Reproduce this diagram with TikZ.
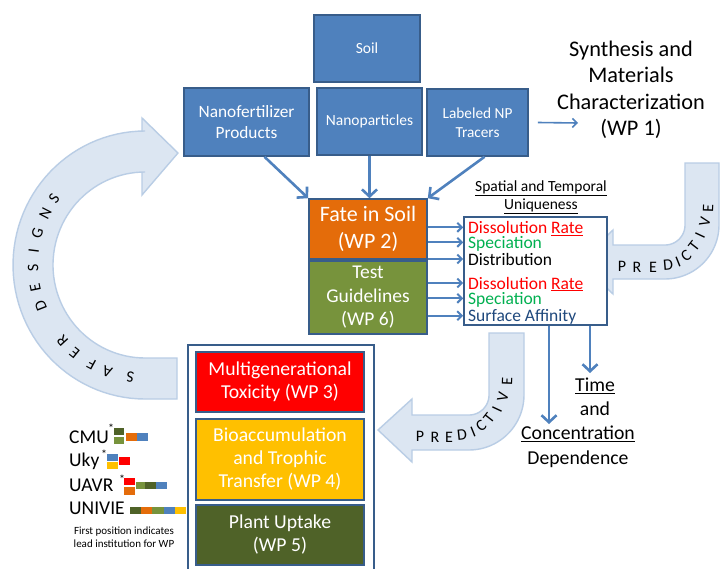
\documentclass[tikz,border=0pt]{standalone}
\usepackage{fontspec}
\setmainfont{Carlito}
\usetikzlibrary{arrows.meta}

\definecolor{boxblue}{HTML}{4F81BD}
\definecolor{edgeblue}{HTML}{385D8A}
\definecolor{fateorange}{HTML}{E46C0A}
\definecolor{olivegreen}{HTML}{77933C}
\definecolor{darkolive}{HTML}{4F6228}
\definecolor{wpyellow}{HTML}{FFC000}
\definecolor{wpred}{HTML}{FF0000}
\definecolor{bandfill}{HTML}{DCE6F2}
\definecolor{bandedge}{HTML}{B9CDE5}
\definecolor{specgreen}{HTML}{00B050}
\definecolor{navytext}{HTML}{1F497D}

\newcommand{\fsz}[2]{\fontsize{#1}{#2}\selectfont}

\begin{document}
\begin{tikzpicture}[x=1pt,y=-1pt,
  box/.style={draw=edgeblue, line width=1.6pt, inner sep=0pt, align=center, text=white},
  bluebox/.style={box, fill=boxblue},
  band/.style={fill=bandfill, draw=bandedge, line width=1.4pt},
  bandtxt/.style={inner sep=0pt, font=\fsz{16}{16}},
  bigarr/.style={draw=boxblue, line width=2.6pt, -{Straight Barb[length=7pt,width=15pt]}},
  harr/.style={draw=boxblue, line width=2pt, -{Straight Barb[length=4.5pt,width=9pt]}},
  thinarr/.style={draw=boxblue, line width=1.6pt, -{Straight Barb[length=4.5pt,width=9pt]}},
  item/.style={inner sep=0pt, anchor=base west, font=\fsz{17.5}{18}},
  legend/.style={inner sep=0pt, anchor=base west, font=\fsz{19.5}{20}},
  star/.style={inner sep=0pt, font=\fsz{12}{12}},
]
\clip (0,0) rectangle (720,568);
\fill[white] (0,0) rectangle (720,568);

% curved band arrows
\filldraw[band] (177,399)
  -- plot[domain=90:270,samples=60] ({145+132*cos(\x)},{265+134*sin(\x)})
  -- (142,131) -- (142,118) -- (178,153) -- (142,195) -- (142,172)
  -- plot[domain=270:90,samples=60] ({145+92*cos(\x)},{265+93*sin(\x)})
  -- (177,358) -- cycle;

\filldraw[band] (580,262) -- (613,230) -- (613,245) -- (665,245)
  -- plot[domain=90:0,samples=24] ({665+20*cos(\x)},{225+20*sin(\x)})
  -- (685,163) -- (719,163)
  -- plot[domain=0:90,samples=24] ({665+54*cos(\x)},{225+54*sin(\x)})
  -- (613,279) -- (613,294) -- cycle;

\filldraw[band] (378,430) -- (412,399) -- (412,415) -- (469,415)
  -- plot[domain=90:0,samples=24] ({469+20*cos(\x)},{395+20*sin(\x)})
  -- (489,333) -- (524,333)
  -- plot[domain=0:90,samples=24] ({469+55*cos(\x)},{395+55*sin(\x)})
  -- (412,450) -- (412,462) -- cycle;

% lettering on the bands
\foreach \ch/\ang [count=\i] in {S/97.6,A/109.7,F/118.5,E/128.9,R/137.6,D/158.6,E/168.2,S/178.4,I/187,G/196.2,N/207.3,S/215.8}
  \node[bandtxt, rotate={-\ang-90}] (sd\i) at ({145+112*cos(\ang)},{265+113*sin(\ang)}) {\ch};
\foreach \ch/\px/\py/\rot [count=\i] in {P/622/266/0,R/637/267/0,E/653/267/0,D/668/265/5,I/678/262/22,C/686/256/38,T/694/246/52,I/700/235/65,V/705/222/77,E/708/208/88}
  \node[bandtxt, rotate=\rot] (pa\i) at (\px,\py) {\ch};
\foreach \ch/\px/\py/\rot [count=\i] in {P/420/436/0,R/435/437/0,E/449/437/0,D/462/435/6,I/473/432/22,C/481/426/38,T/489/418/52,I/497/409/65,V/503/397/77,E/507/381/88}
  \node[bandtxt, rotate=\rot] (pb\i) at (\px,\py) {\ch};

% input boxes
\node[bluebox, minimum width=106pt, minimum height=67pt, font=\fsz{15.5}{18}] (soil) at (367,48.5) {Soil};
\node[bluebox, minimum width=125pt, minimum height=68pt, font=\fsz{17.3}{21}] (nf) at (246.5,122) {Nanofertilizer\\Products};
\node[bluebox, minimum width=105pt, minimum height=67pt, font=\fsz{15.5}{18}] (np) at (369.5,121.5) {Nanoparticles};
\node[bluebox, minimum width=101pt, minimum height=67pt, font=\fsz{15.3}{18.5}] (lab) at (477.5,122.5) {Labeled NP\\Tracers};

\node[align=center, inner sep=0pt, font=\fsz{22.3}{26.5}] (synth) at (631,90) {Synthesis and\\Materials\\Characterization\\(WP 1)};
\coordinate (wp1) at (578,123);
\draw[thinarr] ([xshift=9pt]lab.east) -- (wp1);

% fate and guidelines
\node[box, fill=fateorange, minimum width=118pt, minimum height=60pt, font=\fsz{22}{27}] (fate) at (368,229) {Fate in Soil\\(WP 2)};
\node[box, fill=olivegreen, minimum width=118pt, minimum height=73pt, font=\fsz{19.5}{23.5}] (test) at (368,297.5) {Test\\Guidelines\\(WP 6)};

\draw[bigarr] ([xshift=18pt]nf.south) -- (fate.north west);
\draw[bigarr] (np.south) -- (np.south |- fate.north);
\draw[bigarr] ([xshift=7pt]lab.south) -- (fate.north east);

% properties box
\node[inner sep=0pt, align=center, font=\fsz{15.5}{18}] (spatial) at (541,197) {\underline{Spatial and Temporal}\\\underline{Uniqueness}};
\node[draw=edgeblue, line width=1.6pt, fill=white, minimum width=143pt, minimum height=108pt, inner sep=0pt] (rbox) at (535.5,271) {};
\node[item, text=wpred] (d1) at (468,233.3) {Dissolution \underline{Rate}};
\node[item, text=specgreen] (d2) at (468,248.3) {Speciation};
\node[item] (d3) at (468,265) {Distribution};
\node[item, text=wpred] (d4) at (468,289) {Dissolution \underline{Rate}};
\node[item, text=specgreen] (d5) at (468,304.3) {Speciation};
\node[item, text=navytext] (d6) at (468,321.7) {Surface Affinity};

\foreach \k in {1,2,3}
  \draw[harr] ([yshift=6pt]fate.east |- d\k.base) -- ([yshift=6pt]rbox.west |- d\k.base);
\foreach \k in {4,5,6}
  \draw[harr] ([yshift=6pt]test.east |- d\k.base) -- ([yshift=6pt]rbox.west |- d\k.base);

% time and concentration
\node[inner sep=0pt, align=center, font=\fsz{19.7}{24.5}] (time) at (595,397) {\underline{Time}\\and};
\node[inner sep=0pt, align=center, font=\fsz{19.7}{24.5}] (conc) at (578,447) {\underline{Concentration}\\Dependence};
\coordinate (tt) at (590,373);
\coordinate (tc) at (549,424);
\draw[bigarr] (rbox.south -| tt) -- (tt);
\draw[bigarr] (rbox.south -| tc) -- (tc);

% work package column
\node[draw=edgeblue, line width=1.6pt, fill=white, minimum width=186pt, minimum height=260pt, inner sep=0pt] (wpcol) at (281,475) {};
\node[box, fill=wpred, minimum width=168pt, minimum height=60pt, font=\fsz{19.7}{23}] (wp3) at (280,382) {Multigenerational\\Toxicity (WP 3)};
\node[box, fill=wpyellow, minimum width=168pt, minimum height=81pt, font=\fsz{19.7}{23}] (wp4) at (280,459.5) {Bioaccumulation\\and Trophic\\Transfer (WP 4)};
\node[box, fill=darkolive, minimum width=168pt, minimum height=60pt, font=\fsz{19.7}{23}] (wp5) at (280,535) {Plant Uptake\\(WP 5)};

% institutions
\node[legend] (cmu) at (69,443) {CMU};
\node[legend] (uky) at (69,466) {Uky};
\node[legend] (uavr) at (69,491) {UAVR};
\node[legend] (univie) at (69,514) {UNIVIE};
\node[star] (s1) at (111,428) {*};
\node[star] (s2) at (104,454) {*};
\node[star] (s3) at (122,479) {*};

\fill[darkolive] (114,428) rectangle (124,435);
\fill[olivegreen] (114,437) rectangle (124,444);
\fill[fateorange] (126,433) rectangle (137,441);
\fill[boxblue] (137,433) rectangle (148,441);

\fill[boxblue] (107,454) rectangle (118,461);
\fill[wpyellow] (107,462) rectangle (118,469);
\fill[wpred] (119,457) rectangle (130,465);

\fill[wpred] (124,478) rectangle (135,485);
\fill[fateorange] (124,487) rectangle (135,495);
\fill[olivegreen] (136,482) rectangle (145,489);
\fill[darkolive] (145,482) rectangle (156,489);
\fill[boxblue] (156,482) rectangle (167,489);

\fill[darkolive] (130,507) rectangle (141,514);
\fill[fateorange] (141,507) rectangle (152,514);
\fill[olivegreen] (152,507) rectangle (164,514);
\fill[boxblue] (164,507) rectangle (175,514);
\fill[wpyellow] (175,507) rectangle (186,514);

\node[inner sep=0pt, align=center, font=\fsz{11}{12.5}] (note) at (124,537) {First position indicates\\lead institution for WP};
\end{tikzpicture}
\end{document}
